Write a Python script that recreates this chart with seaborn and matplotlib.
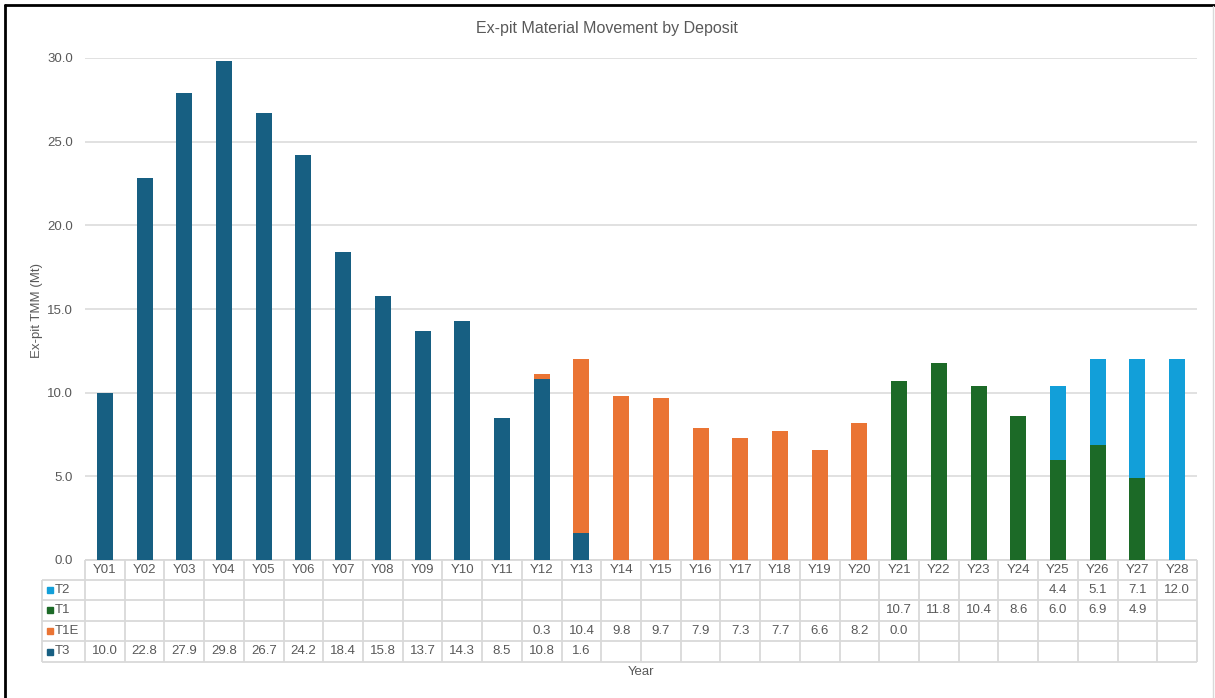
import numpy as np
import pandas as pd
import seaborn as sns
import matplotlib
matplotlib.use("Agg")
import matplotlib.pyplot as plt
from matplotlib import transforms
from matplotlib.lines import Line2D

# ---------------- data ----------------
years = ["Y01", "Y02", "Y03", "Y04", "Y05", "Y06", "Y07", "Y08", "Y09", "Y10",
         "Y11", "Y12", "Y13", "Y14", "Y15", "Y16", "Y17", "Y18", "Y19", "Y20",
         "Y21", "Y22", "Y23", "Y24", "Y25", "Y26", "Y27", "Y28"]
T3 = [10.0, 22.8, 27.9, 29.8, 26.7, 24.2, 18.4, 15.8, 13.7, 14.3,
      8.5, 10.8, 1.6, None, None, None, None, None, None, None,
      None, None, None, None, None, None, None, None]
T1E = [None, None, None, None, None, None, None, None, None, None,
       None, 0.3, 10.4, 9.8, 9.7, 7.9, 7.3, 7.7, 6.6, 8.2,
       0.0, None, None, None, None, None, None, None]
T1 = [None, None, None, None, None, None, None, None, None, None,
      None, None, None, None, None, None, None, None, None, None,
      10.7, 11.8, 10.4, 8.6, 6.0, 6.9, 4.9, None]
T2 = [None, None, None, None, None, None, None, None, None, None,
      None, None, None, None, None, None, None, None, None, None,
      None, None, None, None, 4.4, 5.1, 7.1, 12.0]
series_names = ["T3", "T1E", "T1", "T2"]           # stacking order (bottom -> top)
table_rows = ["T2", "T1", "T1E", "T3"]              # table order (top -> bottom)
colors = {"T3": "#175f82", "T1E": "#ea7434", "T1": "#1c6a27", "T2": "#129fd9"}
yticks = [0, 5, 10, 15, 20, 25, 30]

title = "Ex-pit Material Movement by Deposit"
ylabel = "Ex-pit TMM (Mt)"
xlabel = "Year"

# ---------------- style ----------------
sns.set_theme(style="white")
plt.rcParams["font.family"] = ["Liberation Sans", "DejaVu Sans"]
TXT = "#595959"
GRID = "#d9d9d9"
FS = 9.5

df = pd.DataFrame({"Year": years, "T3": T3, "T1E": T1E, "T1": T1, "T2": T2})
vals = df[series_names].astype(float).fillna(0.0)
cum = vals.cumsum(axis=1)

W, H = 1215, 698
fig = plt.figure(figsize=(W / 100, H / 100), dpi=100)
ax = fig.add_axes([85 / W, 138 / H, 1112 / W, 502 / H])

# overdraw cumulative totals from top series down -> stacked bars
for name in reversed(series_names):
    sns.barplot(x=df["Year"], y=cum[name].values, order=years, color=colors[name],
                width=0.4, saturation=1, errorbar=None, linewidth=0,
                edgecolor="none", ax=ax, zorder=3)

ax.set_xlim(-0.5, len(years) - 0.5)
ax.set_ylim(0, 30)
ax.set_yticks(yticks)
ax.set_yticklabels([f"{v:.1f}" for v in yticks], color=TXT, fontsize=FS)
ax.tick_params(axis="y", length=0, pad=8.5)
ax.tick_params(axis="x", length=0, labelbottom=False)
ax.set_xlabel("")
ax.set_ylabel("")
ax.grid(axis="y", color=GRID, linewidth=1.1, zorder=0)
ax.grid(axis="x", visible=False)
ax.set_axisbelow(True)
for s in ax.spines.values():
    s.set_visible(False)

# ---------------- data table ----------------
blend = transforms.blended_transform_factory(ax.transData, ax.transAxes)
row_px = [560, 579.5, 600, 620.5, 641, 662]
row_fr = [(560 - p) / 502 for p in row_px]
label_left = (41.7 - 85) / 1112
lkw = dict(color=GRID, linewidth=1.3, clip_on=False, zorder=1,
           solid_capstyle="butt")

# horizontal lines
ax.add_line(Line2D([0, 1], [row_fr[0], row_fr[0]], transform=ax.transAxes, **lkw))
for yf in row_fr[1:]:
    ax.add_line(Line2D([label_left, 1], [yf, yf], transform=ax.transAxes, **lkw))
# vertical lines in data area
for i in range(len(years) + 1):
    ax.add_line(Line2D([i - 0.5, i - 0.5], [row_fr[0], row_fr[-1]], transform=blend, **lkw))
# row label column left edge
ax.add_line(Line2D([label_left, label_left], [row_fr[1], row_fr[-1]],
                   transform=ax.transAxes, **lkw))

# header (years)
hy = (row_fr[0] + row_fr[1]) / 2
for i, yr in enumerate(years):
    ax.text(i, hy, yr, transform=blend, ha="center", va="center",
            fontsize=FS, color=TXT, clip_on=False)

# rows
for r, name in enumerate(table_rows):
    yc = (row_fr[r + 1] + row_fr[r + 2]) / 2
    ax.plot([(49.5 - 85) / 1112], [yc], marker="s", markersize=4.2,
            color=colors[name], transform=ax.transAxes, clip_on=False,
            linestyle="none")
    ax.text((55 - 85) / 1112, yc, name, transform=ax.transAxes, ha="left",
            va="center", fontsize=FS, color=TXT, clip_on=False)
    for i, v in enumerate(df[name].tolist()):
        if v is not None and not (isinstance(v, float) and np.isnan(v)):
            ax.text(i, yc, f"{v:.1f}", transform=blend, ha="center",
                    va="center", fontsize=FS, color=TXT, clip_on=False)

# axis titles
ax.text(0.5, (560 - 672) / 502, xlabel, transform=ax.transAxes, ha="center",
        va="center", fontsize=FS, color=TXT)
fig.text(37 / W, 1 - 310 / H, ylabel, rotation=90, ha="center", va="center",
         fontsize=9.5, color=TXT)
fig.text(607 / W, 1 - 29 / H, title, ha="center", va="center",
         fontsize=11.5, color=TXT)

# frame (screenshot border)
fig.add_artist(Line2D([5 / W, 1], [1 - 5 / H, 1 - 5 / H], transform=fig.transFigure,
                      color="black", linewidth=2.0))
fig.add_artist(Line2D([5 / W, 5 / W], [0, 1 - 5 / H], transform=fig.transFigure,
                      color="black", linewidth=2.0))
fig.add_artist(Line2D([1213 / W, 1213 / W], [0, 1 - 6 / H], transform=fig.transFigure,
                      color=GRID, linewidth=1.0))

fig.savefig("out.png", dpi=100)
